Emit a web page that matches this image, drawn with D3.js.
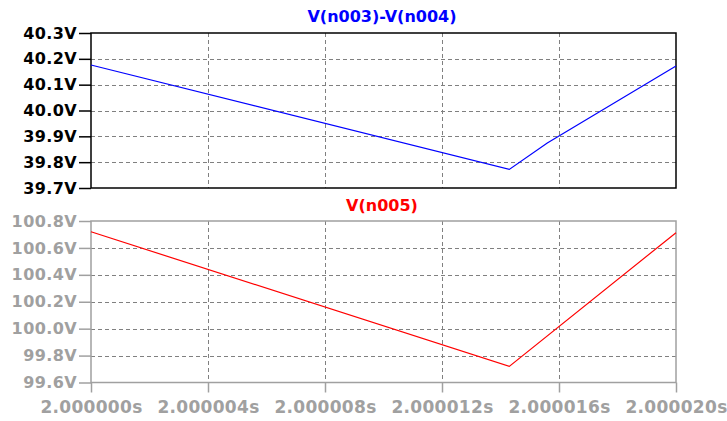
<!DOCTYPE html>
<html><head><meta charset="utf-8">
<script src="https://cdn.jsdelivr.net/npm/d3@7"></script>
<style>
html,body{margin:0;padding:0;background:#fff;}
svg{display:block;}
text{font-family:"DejaVu Sans",sans-serif;font-weight:bold;}
</style></head>
<body>
<script>
// Data (time offsets in microseconds from 2.000000s)
const timeTicks = [0, 4, 8, 12, 16, 20];
const timeTickLabels = ["2.000000s","2.000004s","2.000008s","2.000012s","2.000016s","2.000020s"];

const topTimes  = [0, 14.3, 15.6, 20];
const topValues = [40.176, 39.772, 39.874, 40.172];
const topTicks  = [39.7, 39.8, 39.9, 40.0, 40.1, 40.2, 40.3];
const topTickLabels = ["39.7V","39.8V","39.9V","40.0V","40.1V","40.2V","40.3V"];
const topTitle = "V(n003)-V(n004)";

const botTimes  = [0, 14.3, 20];
const botValues = [100.72, 99.72, 100.713];
const botTicks  = [99.6, 99.8, 100.0, 100.2, 100.4, 100.6, 100.8];
const botTickLabels = ["99.6V","99.8V","100.0V","100.2V","100.4V","100.6V","100.8V"];
const botTitle = "V(n005)";

const W = 727, H = 421;
const svg = d3.select("body").append("svg").attr("width", W).attr("height", H);

const x = d3.scaleLinear().domain([0, 20]).range([91, 676]);

function panel(opts) {
  const y = d3.scaleLinear().domain(opts.domain).range([opts.bottom, opts.top]);
  const g = svg.append("g");
  // gridlines
  g.selectAll(".hg").data(opts.ticks.slice(1, -1)).enter().append("line")
    .attr("x1", x.range()[0]).attr("x2", x.range()[1])
    .attr("y1", d => Math.round(y(d)) + 0.5).attr("y2", d => Math.round(y(d)) + 0.5)
    .attr("stroke", "#808080").attr("stroke-width", 1).attr("stroke-dasharray", "4,3");
  g.selectAll(".vg").data(timeTicks.slice(1, -1)).enter().append("line")
    .attr("y1", opts.top).attr("y2", opts.bottom)
    .attr("x1", d => Math.round(x(d)) + 0.5).attr("x2", d => Math.round(x(d)) + 0.5)
    .attr("stroke", "#808080").attr("stroke-width", 1).attr("stroke-dasharray", "4,3");
  // y axis
  const ya = d3.axisLeft(y).tickValues(opts.ticks)
    .tickFormat((d, i) => opts.tickLabels[i]).tickSize(12).tickPadding(2);
  const yg = g.append("g").attr("transform", `translate(${x.range()[0]},0)`).call(ya);
  yg.select(".domain").remove();
  yg.selectAll("line").attr("stroke", opts.frameColor).attr("stroke-width", 1.5);
  yg.selectAll("text").attr("fill", opts.labelColor).attr("font-size", 16)
    .style("letter-spacing", "0.4px").attr("font-family", "DejaVu Sans").attr("font-weight", "bold");
  if (opts.xAxis) {
    const xa = d3.axisBottom(x).tickValues(timeTicks)
      .tickFormat((d, i) => timeTickLabels[i]).tickSize(10).tickPadding(8);
    const xg = g.append("g").attr("transform", `translate(0,${opts.bottom})`).call(xa);
    xg.select(".domain").remove();
    xg.selectAll("line").attr("stroke", opts.frameColor).attr("stroke-width", 1.5);
    xg.selectAll("text").attr("fill", opts.labelColor).attr("font-size", 17)
      .style("letter-spacing", "0.3px").attr("font-family", "DejaVu Sans").attr("font-weight", "bold");
  }
  // frame
  g.append("rect").attr("x", x.range()[0]).attr("y", opts.top)
    .attr("width", x.range()[1] - x.range()[0]).attr("height", opts.bottom - opts.top)
    .attr("fill", "none").attr("stroke", opts.frameColor).attr("stroke-width", 1.5);
  // line
  const pts = opts.times.map((t, i) => [t, opts.values[i]]);
  g.append("path").datum(pts)
    .attr("d", d3.line().x(d => x(d[0])).y(d => y(d[1])))
    .attr("fill", "none").attr("stroke", opts.color).attr("stroke-width", 1.2);
  // title
  g.append("text").attr("x", 382).attr("y", opts.titleY).attr("text-anchor", "middle")
    .attr("fill", opts.color).attr("font-size", 16)
    .text(opts.title);
}

panel({domain: [39.7, 40.3], top: 33, bottom: 188, ticks: topTicks, tickLabels: topTickLabels,
  frameColor: "#000", labelColor: "#000", color: "#0000ff", times: topTimes, values: topValues,
  title: topTitle, titleY: 22, xAxis: false});
panel({domain: [99.6, 100.8], top: 221, bottom: 382.5, ticks: botTicks, tickLabels: botTickLabels,
  frameColor: "#a0a0a0", labelColor: "#a0a0a0", color: "#ff0000", times: botTimes, values: botValues,
  title: botTitle, titleY: 211, xAxis: true});
</script>
</body></html>
